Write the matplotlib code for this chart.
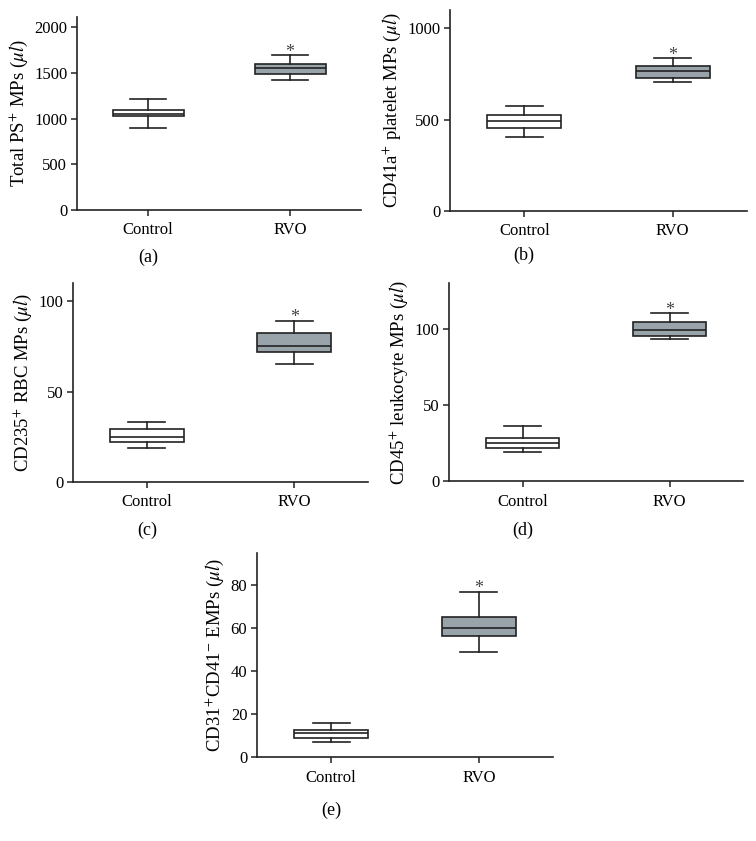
import matplotlib
matplotlib.use("Agg")
import matplotlib.pyplot as plt

plt.rcParams["font.family"] = ["Liberation Serif", "DejaVu Serif"]
plt.rcParams["mathtext.fontset"] = "stix"

groups = ["Control", "RVO"]

# whisker low, q1, median, q3, whisker high for Control and RVO
total_ps = [(900, 1025, 1055, 1090, 1210), (1420, 1485, 1555, 1600, 1690)]
cd41a = [(405, 455, 495, 525, 575), (705, 730, 765, 795, 835)]
cd235 = [(19, 22, 25, 29.5, 33), (65, 72, 75, 82.5, 89)]
cd45 = [(19, 21.5, 25, 28, 36), (93, 95.5, 99, 104.5, 110)]
cd31 = [(7, 9, 11, 12.5, 16), (49, 56.5, 60, 65, 77)]

ylabels = [
    "Total PS$^{+}$ MPs ($\\mu l$)",
    "CD41a$^{+}$ platelet MPs ($\\mu l$)",
    "CD235$^{+}$ RBC MPs ($\\mu l$)",
    "CD45$^{+}$ leukocyte MPs ($\\mu l$)",
    "CD31$^{+}$CD41$^{-}$ EMPs ($\\mu l$)",
]
yticks = [[0, 500, 1000, 1500, 2000], [0, 500, 1000], [0, 50, 100], [0, 50, 100], [0, 20, 40, 60, 80]]
ymax = [2110, 1100, 110, 130, 95]
captions = ["(a)", "(b)", "(c)", "(d)", "(e)"]
datasets = [total_ps, cd41a, cd235, cd45, cd31]

W, H = 756, 841
# axes boxes in pixels: left, right, top, bottom
boxes = [(77, 361, 17, 210), (450, 747, 10, 211), (73, 368, 283, 482),
         (449, 743, 283, 481), (257, 553, 553, 757)]
cap_y = [257, 255, 530, 530, 810]

fig = plt.figure(figsize=(W / 100, H / 100), dpi=100)

for data, lab, ticks, top, cap, (l, r, t, b), cy in zip(
        datasets, ylabels, yticks, ymax, captions, boxes, cap_y):
    ax = fig.add_axes([l / W, 1 - b / H, (r - l) / W, (b - t) / H])
    stats = []
    for name, (lo, q1, med, q3, hi) in zip(groups, data):
        stats.append(dict(label=name, whislo=lo, q1=q1, med=med, q3=q3, whishi=hi, fliers=[]))
    bp = ax.bxp(stats, positions=[0.5, 1.5], widths=0.5, patch_artist=True,
                showfliers=False,
                boxprops=dict(linewidth=1.2, edgecolor="#222222"),
                medianprops=dict(color="#222222", linewidth=1.2),
                whiskerprops=dict(color="#222222", linewidth=1.2),
                capprops=dict(color="#222222", linewidth=1.2),
                capwidths=0.25)
    bp["boxes"][0].set_facecolor("white")
    bp["boxes"][1].set_facecolor("#98a3aa")
    ax.annotate("*", (1.5, data[1][4]), xytext=(0, -1), textcoords="offset points",
                ha="center", va="baseline", fontsize=13, color="#444444")
    ax.set_xlim(0, 2)
    ax.set_ylim(0, top)
    ax.set_yticks(ticks)
    ax.set_xticks([0.5, 1.5])
    ax.set_xticklabels(groups)
    ax.set_ylabel(lab, fontsize=13.5, labelpad=3)
    ax.tick_params(labelsize=12, width=1.1, length=4, color="#222222", pad=3)
    ax.tick_params(axis="x", pad=5)
    ax.spines["top"].set_visible(False)
    ax.spines["right"].set_visible(False)
    for s in ("left", "bottom"):
        ax.spines[s].set_linewidth(1.2)
        ax.spines[s].set_color("#222222")
    fig.text((l + (r - l) / 4) / W, 1 - cy / H, cap, ha="center", va="center", fontsize=13)

fig.savefig("out.png", dpi=100)
